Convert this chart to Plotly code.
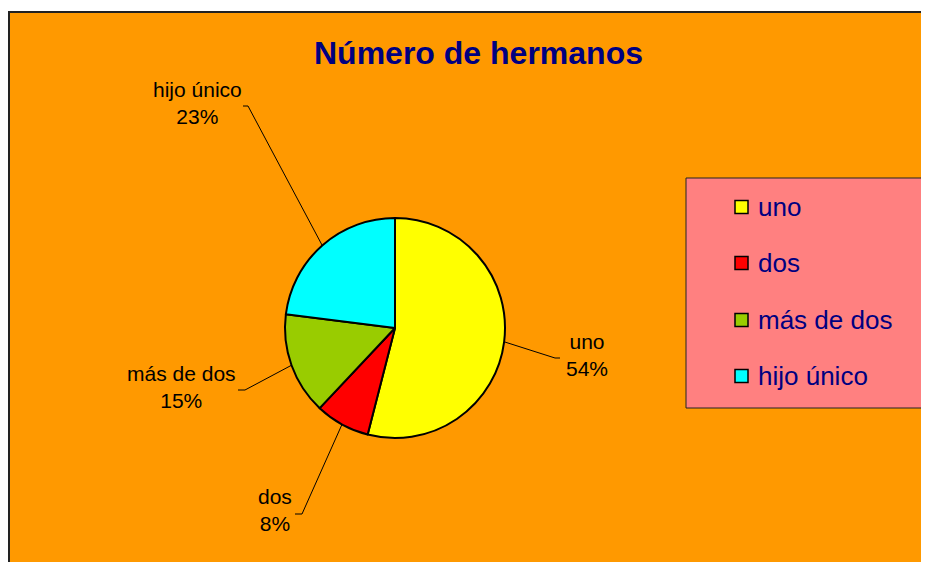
import math
import plotly.graph_objects as go

# ---- data ----
categories = ["uno", "dos", "más de dos", "hijo único"]
values = [54, 8, 15, 23]
colors = ["#FFFF00", "#FF0000", "#99CC00", "#00FFFF"]
title_text = "Número de hermanos"

# ---- layout constants (screen pixels) ----
OFF = 8                     # page body margin
W, H = 929, 562 - OFF
CX, CY, R = 395, 328, 110
# label anchor (text centre) and elbow end for each slice
label_pos = [(587, 355), (275, 510), (181, 387), (197, 103)]
elbow_pos = [((555, 358), (560, 358)), ((302, 514), (295, 514)),
             ((245, 390), (238, 390)), ((248, 106), (243, 106))]
legend_box = (686, 178, 960, 408)
legend_rows = [207, 263, 320, 376]
FONT = "Liberation Sans, Arial, sans-serif"


def px(x):
    return (x - OFF) / W


def py(y):
    return 1 - (y - OFF) / H


fig = go.Figure()
fig.add_trace(go.Pie(
    labels=categories,
    values=values,
    sort=False,
    direction="clockwise",
    rotation=0,
    textinfo="none",
    hoverinfo="label+percent",
    marker=dict(colors=colors, line=dict(color="black", width=2)),
    domain=dict(x=[px(CX - R), px(CX + R)], y=[py(CY + R), py(CY - R)]),
    showlegend=False,
))

shapes = []
annotations = []

# chart area background
shapes.append(dict(type="rect", xref="paper", yref="paper", layer="below",
                   x0=px(9), y0=py(12), x1=px(W + 60), y1=py(H + 40),
                   fillcolor="#FF9900", line=dict(color="#222222", width=2)))

# data labels and leader lines computed from slice angles
total = sum(values)
cum = 0
for i, (cat, v) in enumerate(zip(categories, values)):
    mid = (cum + v / 2) / total * 2 * math.pi
    cum += v
    ex = CX + R * math.sin(mid)
    ey = CY - R * math.cos(mid)
    (bx, by), (tx, ty) = elbow_pos[i]
    shapes.append(dict(type="path", xref="paper", yref="paper",
                       path=f"M {px(ex)} {py(ey)} L {px(bx)} {py(by)} L {px(tx)} {py(ty)}",
                       line=dict(color="black", width=1)))
    pct = round(v / total * 100)
    lx, ly = label_pos[i]
    annotations.append(dict(xref="paper", yref="paper", x=px(lx), y=py(ly),
                            xanchor="center", yanchor="middle", showarrow=False,
                            text=f"{cat}<br>{pct}%", align="center",
                            font=dict(family=FONT, size=21, color="black")))

# legend drawn manually
x0, y0, x1, y1 = legend_box
shapes.append(dict(type="rect", xref="paper", yref="paper",
                   x0=px(x0), y0=py(y0), x1=px(x1), y1=py(y1),
                   fillcolor="#FF8080", line=dict(color="#222222", width=1)))
for cat, col, ry in zip(categories, colors, legend_rows):
    shapes.append(dict(type="rect", xref="paper", yref="paper",
                       x0=px(735), y0=py(ry + 6.5), x1=px(748), y1=py(ry - 6.5),
                       fillcolor=col, line=dict(color="black", width=1.5)))
    annotations.append(dict(xref="paper", yref="paper", x=px(756), y=py(ry),
                            xanchor="left", yanchor="middle", showarrow=False,
                            text=cat, font=dict(family=FONT, size=26, color="#000080")))

# title
annotations.append(dict(xref="paper", yref="paper", x=px(478), y=py(53),
                        xanchor="center", yanchor="middle", showarrow=False,
                        text=f"<b>{title_text}</b>",
                        font=dict(family=FONT, size=32, color="#000080")))

fig.update_layout(
    width=W, height=H,
    margin=dict(l=0, r=0, t=0, b=0),
    paper_bgcolor="white",
    plot_bgcolor="rgba(0,0,0,0)",
    shapes=shapes,
    annotations=annotations,
    showlegend=False,
)

fig.write_html("out.html")
